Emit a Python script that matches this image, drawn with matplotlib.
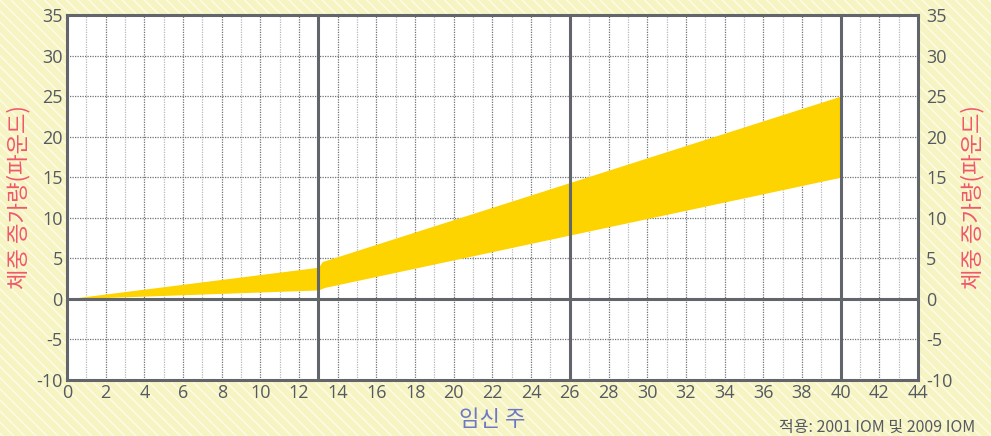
import numpy as np
import matplotlib.pyplot as plt
from matplotlib.patches import Rectangle

plt.rcParams['font.family'] = ['Open Sans', 'Noto Sans CJK KR', 'DejaVu Sans']
plt.rcParams['axes.unicode_minus'] = False
kr = ['Noto Sans CJK KR', 'DejaVu Sans']

# 권장 체중 증가 범위 (주, 파운드)
weeks_upper = [0, 13, 13.2, 40]
gain_upper = [0, 3.9, 4.6, 25]
weeks_lower = [0, 13, 13.3, 40]
gain_lower = [0, 1.1, 1.4, 15]

y_ticks = [-10, -5, 0, 5, 10, 15, 20, 25, 30, 35]
x_ticks = list(range(0, 45, 2))
trimesters = [13, 26, 40]

ylabel = '체중 증가량(파운드)'
xlabel = '임신 주'
note = '적용: 2001 IOM 및 2009 IOM'

fig = plt.figure(figsize=(9.91, 4.36), dpi=100)
fig.patch.set_facecolor('#fbf9d6')
bg = Rectangle((0, 0), 1, 1, transform=fig.transFigure, facecolor='#f7f4c4',
               edgecolor='#fdfce8', hatch='\\\\\\', linewidth=0, zorder=-10)
fig.patches.append(bg)

ax = fig.add_axes([0.0676, 0.1285, 0.8587, 0.8371])
ax.set_facecolor('white')

wk = np.union1d(weeks_upper, weeks_lower)
up = np.interp(wk, weeks_upper, gain_upper)
lo = np.interp(wk, weeks_lower, gain_lower)
ax.fill_between(wk, lo, up, color='#fdd300', linewidth=0, zorder=2)

ax.set_xlim(0, 44)
ax.set_ylim(-10, 35)
ax.set_xticks(x_ticks)
ax.set_yticks(y_ticks)
ax.set_xticks(range(1, 44, 2), minor=True)
ax.tick_params(which='both', length=0)
ax.tick_params(labelsize=13, colors='#555a60', pad=3)

ax.grid(which='major', color='#6f7377', linestyle=(0, (1, 1)), linewidth=0.9, zorder=1)
ax.grid(which='minor', axis='x', color='#b5b8bb', linestyle=(0, (1, 1)), linewidth=0.9, zorder=1)

for t in trimesters:
    ax.axvline(t, color='#62666b', linewidth=2.2, zorder=3)
ax.axhline(0, color='#62666b', linewidth=2.2, zorder=3)

for s in ax.spines.values():
    s.set_color('#62666b')
    s.set_linewidth(2.2)

ax.set_ylabel(ylabel, color='#f0576b', fontsize=16, labelpad=4, family=kr)
ax.set_xlabel(xlabel, color='#6b79c6', fontsize=16, labelpad=4, family=kr)

ax2 = ax.twinx()
ax2.set_ylim(-10, 35)
ax2.set_yticks(y_ticks)
ax2.tick_params(length=0, labelsize=13, colors='#555a60', pad=6)
ax2.set_ylabel(ylabel, color='#f0576b', fontsize=16, labelpad=6, family=kr)
for s in ax2.spines.values():
    s.set_visible(False)

fig.text(0.984, 0.0, note, ha='right', va='bottom', fontsize=11.5, color='#555a60', family=kr)

fig.savefig('out.png', dpi=100, facecolor=fig.get_facecolor())
